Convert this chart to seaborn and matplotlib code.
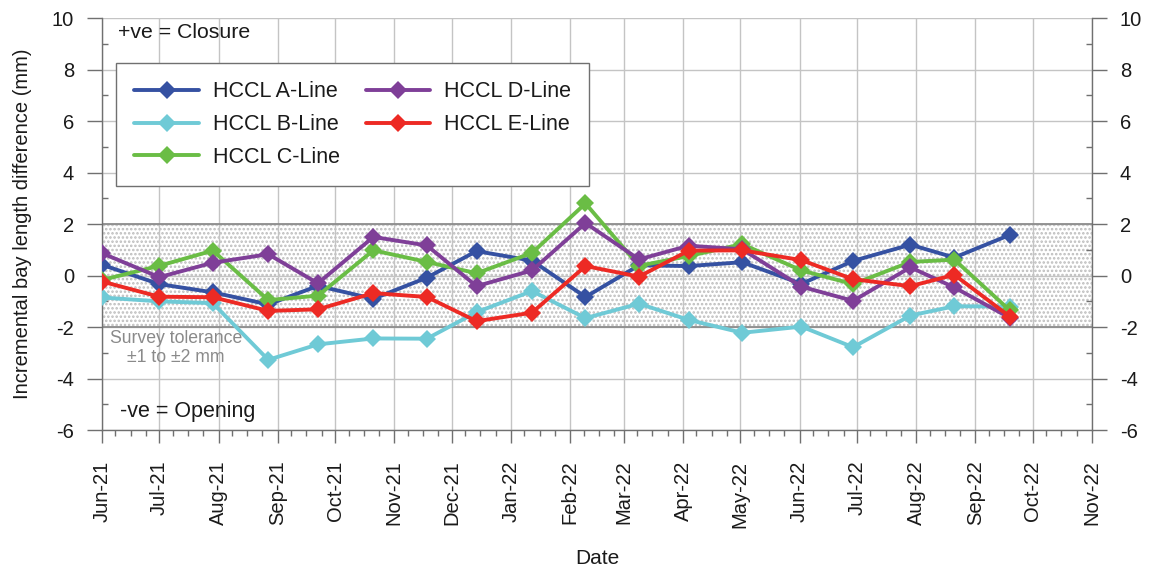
import matplotlib
matplotlib.use("Agg")
import matplotlib.pyplot as plt
import matplotlib.dates as mdates
from matplotlib.ticker import MultipleLocator
import numpy as np
import pandas as pd
import seaborn as sns

# Survey dates
dates = ['2021-06-01', '2021-07-01', '2021-07-29', '2021-08-27', '2021-09-22',
         '2021-10-21', '2021-11-18', '2021-12-14', '2022-01-12', '2022-02-09',
         '2022-03-09', '2022-04-04', '2022-05-02', '2022-06-02', '2022-06-29',
         '2022-07-29', '2022-08-21', '2022-09-19']

# Incremental bay length difference (mm) per line
a_line = [0.42, -0.33, -0.65, -1.12, -0.40, -0.90, -0.08, 0.95, 0.58, -0.83,
          0.40, 0.37, 0.52, -0.32, 0.57, 1.20, 0.70, 1.58]
b_line = [-0.85, -1.00, -1.07, -3.27, -2.67, -2.44, -2.45, -1.42, -0.60, -1.65,
          -1.09, -1.72, -2.22, -1.98, -2.78, -1.55, -1.19, -1.20]
c_line = [-0.17, 0.38, 0.97, -0.95, -0.78, 0.98, 0.53, 0.09, 0.88, 2.80,
          0.38, 0.76, 1.22, 0.20, -0.33, 0.53, 0.62, -1.35]
d_line = [0.87, -0.06, 0.50, 0.83, -0.30, 1.50, 1.17, -0.41, 0.20, 2.04,
          0.63, 1.16, 1.02, -0.43, -0.98, 0.32, -0.46, -1.64]
e_line = [-0.23, -0.82, -0.84, -1.37, -1.31, -0.68, -0.83, -1.77, -1.44, 0.37,
          -0.04, 0.97, 0.98, 0.60, -0.14, -0.41, 0.03, -1.59]

series_names = ['HCCL A-Line', 'HCCL B-Line', 'HCCL C-Line', 'HCCL D-Line', 'HCCL E-Line']
series_values = [a_line, b_line, c_line, d_line, e_line]
series_colors = ['#3551a2', '#6fcad6', '#6abd45', '#7f3f98', '#ed2a24']

tolerance = [-2, 2]
y_ticks = [-6, -4, -2, 0, 2, 4, 6, 8, 10]

sns.set_theme(style="white")
plt.rcParams['font.family'] = ['Liberation Sans', 'DejaVu Sans']
plt.rcParams['axes.unicode_minus'] = False
plt.rcParams['hatch.linewidth'] = 1.2
plt.rcParams['hatch.color'] = '#bcbcbc'

frames = []
for name, vals in zip(series_names, series_values):
    frames.append(pd.DataFrame({'Date': pd.to_datetime(dates), 'value': vals, 'series': name}))
df = pd.concat(frames, ignore_index=True)

fig = plt.figure(figsize=(11.52, 5.72), dpi=100)
ax = fig.add_axes([0.0885, 0.248, 0.8594, 0.7205])

x0 = pd.Timestamp('2021-06-01')
x1 = pd.Timestamp('2022-11-01')

# Survey tolerance band
ax.fill_between([x0, x1], tolerance[0], tolerance[1], facecolor='white',
                edgecolor='#bcbcbc', hatch='....', linewidth=0, zorder=0.3)
for t in tolerance:
    ax.axhline(t, color='#8c8c8c', lw=1.3, zorder=0.6)

sns.lineplot(data=df, x='Date', y='value', hue='series', hue_order=series_names,
             palette=series_colors, marker='D', markersize=9, markeredgewidth=0,
             linewidth=2.8, dashes=False, sort=False, ax=ax, zorder=3)

ax.set_xlim(x0, x1)
ax.set_ylim(-6, 10)

ax.xaxis.set_major_locator(mdates.MonthLocator())
ax.xaxis.set_major_formatter(mdates.DateFormatter('%b-%y'))
ax.xaxis.set_minor_locator(mdates.DayLocator(bymonthday=[8, 16, 24]))
ax.set_yticks(y_ticks)
ax.yaxis.set_minor_locator(MultipleLocator(1))

ax.grid(True, which='major', color='#c4c4c4', lw=1.0, zorder=0.5)
ax.set_axisbelow(True)

for s in ax.spines.values():
    s.set_color('#707070')
    s.set_linewidth(1.0)
ax.spines['top'].set_visible(False)

ax.tick_params(axis='x', which='major', direction='out', length=9, width=1,
               color='#707070', labelsize=14.5, labelrotation=90, pad=13, bottom=True)
ax.tick_params(axis='x', which='minor', direction='out', length=4, width=1,
               color='#707070', bottom=True)
ax.tick_params(axis='y', which='major', direction='out', length=11, width=1,
               color='#707070', labelsize=14.5, left=True, right=True,
               labelleft=True, labelright=True, pad=9)
ax.tick_params(axis='y', which='minor', direction='in', length=4, width=1,
               color='#707070', left=True, right=True)
for lbl in ax.get_xticklabels() + ax.get_yticklabels():
    lbl.set_color('#1a1a1a')

ax.set_xlabel('Date', fontsize=15, color='#1a1a1a', labelpad=15)
ax.set_ylabel('Incremental bay length difference (mm)', fontsize=14.5,
              color='#1a1a1a', labelpad=14)

ax.text(0.016, 0.966, '+ve = Closure', transform=ax.transAxes, fontsize=15.3,
        va='center', ha='left', color='#1a1a1a')
ax.text(0.018, 0.046, '-ve = Opening', transform=ax.transAxes, fontsize=15.5,
        va='center', ha='left', color='#1a1a1a')
ax.text(0.075, 0.199, 'Survey tolerance\n±1 to ±2 mm', transform=ax.transAxes,
        fontsize=12.7, va='center', ha='center', color='#8a8a8a', linespacing=1.15)

handles, labels = ax.get_legend_handles_labels()
leg = ax.legend(handles, labels, ncol=2, loc='upper left',
                bbox_to_anchor=(0.0141, 0.891), fontsize=15.5, frameon=True,
                fancybox=False, edgecolor='#707070', framealpha=1,
                handlelength=3.0, handletextpad=0.65, columnspacing=1.2,
                labelspacing=0.55, borderpad=0.85, borderaxespad=0)
leg.get_frame().set_linewidth(1.0)
for txt in leg.get_texts():
    txt.set_color('#1a1a1a')

fig.savefig('out.png', dpi=100)
